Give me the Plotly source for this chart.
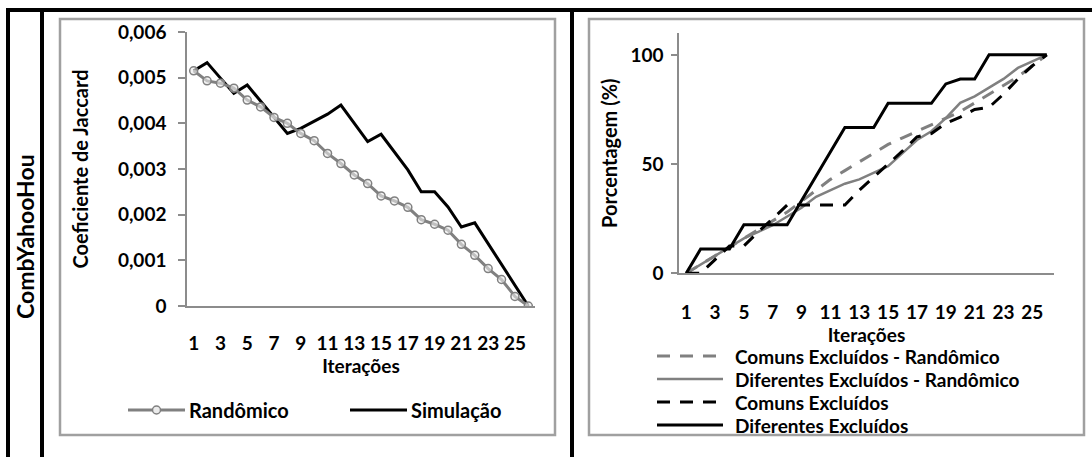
import plotly.graph_objects as go

# ---------------- data ----------------
iteracoes = list(range(1, 27))
x_tick_vals = [1, 3, 5, 7, 9, 11, 13, 15, 17, 19, 21, 23, 25]
x_tick_text = [str(v) for v in x_tick_vals]

jaccard_randomico = [0.00515, 0.00493, 0.00488, 0.00477, 0.00451, 0.00436, 0.00413, 0.00400,
                     0.00378, 0.00362, 0.00334, 0.00312, 0.00287, 0.00268, 0.00241, 0.00230,
                     0.00216, 0.00189, 0.00179, 0.00166, 0.00135, 0.00111, 0.00082, 0.00058,
                     0.00021, 0.0]
jaccard_simulacao = [0.00515, 0.00533, 0.00499, 0.00466, 0.00484, 0.00449, 0.00413, 0.00378,
                     0.00389, 0.00404, 0.00420, 0.00440, 0.00400, 0.00360, 0.00376, 0.00338,
                     0.00298, 0.00250, 0.00250, 0.00217, 0.00173, 0.00182, 0.00137, 0.00093,
                     0.00048, 0.0]
y_left_ticks = [0, 0.001, 0.002, 0.003, 0.004, 0.005, 0.006]
y_left_text = ["0", "0,001", "0,002", "0,003", "0,004", "0,005", "0,006"]

comuns_randomico = [0, 4, 8, 12, 16, 20, 24, 28, 33, 38, 43, 47, 51, 55, 59, 62, 65, 68,
                    71, 74, 78, 82, 86, 90, 95, 100]
diferentes_randomico = [0, 4, 8, 12, 16, 19, 22, 26, 30, 35, 38, 41, 43, 46, 49, 55, 61, 65,
                        71, 78, 81, 85, 89, 94, 97, 100]
comuns_excluidos = [0, 0, 6.3, 12.5, 12.5, 19, 25, 31.25, 31.25, 31.25, 31.25, 31.25, 38, 44,
                    50, 56, 62.5, 64, 68.7, 71.5, 75, 76, 82, 89, 95, 100]
diferentes_excluidos = [0, 11.1, 11.1, 11.1, 22.2, 22.2, 22.2, 22.2, 33.3, 44.4, 55.6, 66.7,
                        66.7, 66.7, 77.8, 77.8, 77.8, 77.8, 86.7, 88.9, 88.9, 100, 100, 100,
                        100, 100]
y_right_ticks = [0, 50, 100]

left_names = ["Randômico", "Simulação"]
right_names = ["Comuns Excluídos - Randômico", "Diferentes Excluídos - Randômico",
               "Comuns Excluídos", "Diferentes Excluídos"]

# ---------------- style ----------------
W, H = 1092, 457
FONT = "Lato, 'Open Sans', sans-serif"
GRAY = "#808080"
AXIS_GRAY = "#8c8c8c"
DASH = "13px,10px"


def px(x):
    return x / W


def py(y):
    return 1 - y / H


fig = go.Figure()

# Left chart
fig.add_trace(go.Scatter(x=iteracoes, y=jaccard_simulacao, name=left_names[1], mode="lines",
                         line=dict(color="black", width=3), xaxis="x", yaxis="y",
                         showlegend=False))
fig.add_trace(go.Scatter(x=iteracoes, y=jaccard_randomico, name=left_names[0], mode="lines+markers",
                         line=dict(color=GRAY, width=3),
                         marker=dict(symbol="circle", size=8, color="rgba(235,235,235,0.6)",
                                     line=dict(color=GRAY, width=1.5)),
                         xaxis="x", yaxis="y", showlegend=False))

# Right chart
right_series = [comuns_randomico, diferentes_randomico, comuns_excluidos, diferentes_excluidos]
right_styles = [dict(color=GRAY, width=3, dash=DASH), dict(color=GRAY, width=2.5),
                dict(color="black", width=3, dash=DASH), dict(color="black", width=3)]
for name, vals, st in zip(right_names, right_series, right_styles):
    fig.add_trace(go.Scatter(x=iteracoes, y=vals, name=name, mode="lines", line=st,
                             xaxis="x2", yaxis="y2", showlegend=False))

tickfont = dict(family=FONT, size=19, color="black", weight="bold")
titlefont = dict(family=FONT, size=20, color="black", weight="bold")
xtitlefont = dict(family=FONT, size=19, color="black", weight="bold")

xcommon = dict(range=[0.5, 26.5], tickmode="array", tickvals=x_tick_vals, ticktext=x_tick_text,
               showline=True, linecolor=AXIS_GRAY, linewidth=1.5, ticks="", showgrid=False,
               zeroline=False, tickfont=tickfont, fixedrange=True, automargin=False)
ycommon = dict(showline=True, linecolor=AXIS_GRAY, linewidth=1.5, ticks="outside",
               tickcolor=AXIS_GRAY, tickwidth=1.5, showgrid=False, zeroline=False,
               tickfont=tickfont, automargin=False, fixedrange=True)

fig.update_layout(
    template="none",
    width=W, height=H, margin=dict(l=0, r=0, t=0, b=0, autoexpand=False),
    paper_bgcolor="white", plot_bgcolor="white",
    font=dict(family=FONT, color="black", weight="bold"),
    showlegend=False,
    xaxis=dict(domain=[px(187), px(535)], anchor="y",
               title=dict(text="Iterações", font=xtitlefont, standoff=0),
               ticklabelstandoff=19, **xcommon),
    yaxis=dict(domain=[py(306), py(32)], anchor="x", range=[0, 0.006],
               tickmode="array", tickvals=y_left_ticks, ticktext=y_left_text,
               ticklen=7, ticklabelstandoff=8,
               title=dict(text="Coeficiente de Jaccard", font=titlefont, standoff=24), **ycommon),
    xaxis2=dict(domain=[px(679), px(1054)], anchor="y2",
                title=dict(text="Iterações", font=xtitlefont, standoff=0),
                ticklabelstandoff=21, **xcommon),
    yaxis2=dict(domain=[py(273.3), py(33)], anchor="x2", range=[0, 110],
                tickmode="array", tickvals=y_right_ticks,
                ticklen=6, ticklabelstandoff=4,
                title=dict(text="Porcentagem (%)", font=titlefont, standoff=7), **ycommon),
)

# Row label
fig.add_annotation(text="CombYahooHou", x=px(25), y=py(237), xref="paper", yref="paper",
                   xanchor="center", yanchor="middle", textangle=-90, showarrow=False,
                   font=dict(family=FONT, size=23, color="black", weight="bold"))

shapes = []

# ---- Legend keys (chart furniture) ----
left_keys = [(128, 185, 187, dict(color=GRAY, width=3), True),
             (350, 407, 409, dict(color="black", width=3), False)]
for (k0, k1, tx, st, marker), name in zip(left_keys, left_names):
    shapes.append(dict(type="line", xref="paper", yref="paper", x0=px(k0), x1=px(k1),
                       y0=py(410), y1=py(410), line=st))
    if marker:
        cx = (k0 + k1) / 2
        shapes.append(dict(type="circle", xref="paper", yref="paper",
                           x0=px(cx - 4), x1=px(cx + 4), y0=py(414), y1=py(406),
                           fillcolor="rgb(235,235,235)", line=dict(color=GRAY, width=1.5)))
    fig.add_annotation(text=name, x=px(tx), y=py(410), xref="paper", yref="paper",
                       xanchor="left", yanchor="middle", showarrow=False,
                       font=dict(family=FONT, size=20, color="black", weight="bold"))

right_rows = [356, 379, 402, 425]
for name, st, yy in zip(right_names, right_styles, right_rows):
    shapes.append(dict(type="line", xref="paper", yref="paper", x0=px(657), x1=px(723),
                       y0=py(yy), y1=py(yy), line=st))
    fig.add_annotation(text=name, x=px(733), y=py(yy), xref="paper", yref="paper",
                       xanchor="left", yanchor="middle", showarrow=False,
                       font=dict(family=FONT, size=19, color="black", weight="bold"))

# ---- Frame decorations ----
for (x0, y0, x1, y1) in [(60, 19, 555, 435), (589, 19, 1084, 435)]:
    shapes.append(dict(type="rect", xref="paper", yref="paper", x0=px(x0), y0=py(y1),
                       x1=px(x1), y1=py(y0), line=dict(color="#a0a0a0", width=2.5),
                       layer="below"))
shapes.append(dict(type="line", xref="paper", yref="paper", x0=px(6), x1=1, y0=py(10), y1=py(10),
                   line=dict(color="black", width=4)))
for xv in [8, 42, 572]:
    shapes.append(dict(type="line", xref="paper", yref="paper", x0=px(xv), x1=px(xv),
                       y0=py(8), y1=0, line=dict(color="black", width=4)))
fig.update_layout(shapes=shapes)

fig.write_html("out.html")
